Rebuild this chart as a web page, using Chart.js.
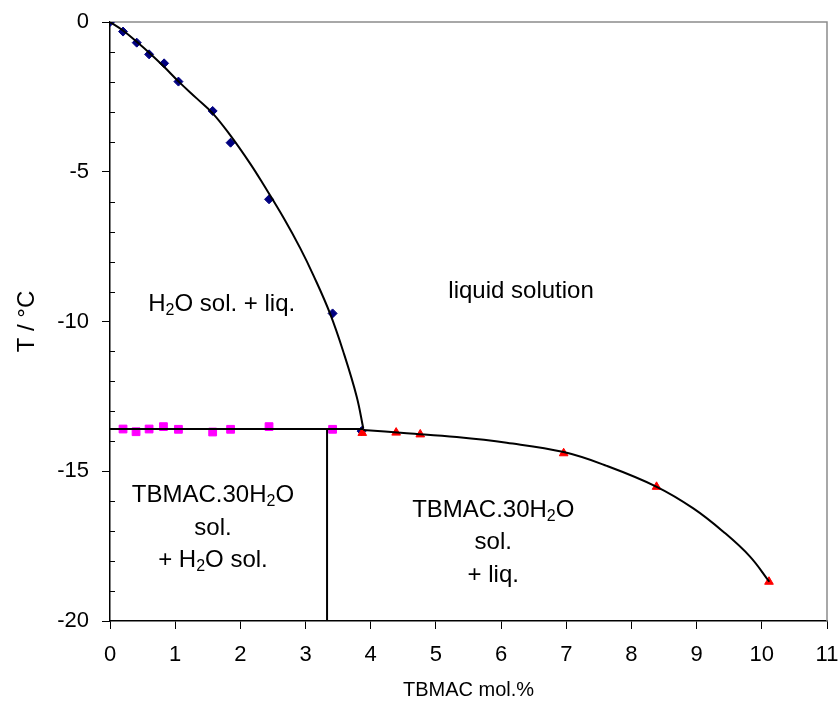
<!DOCTYPE html>
<html><head><meta charset="utf-8">
<script src="https://cdn.jsdelivr.net/npm/chart.js@4/dist/chart.umd.min.js"></script>
<style>html,body{margin:0;padding:0;background:#fff}canvas{display:block}</style>
</head><body>
<canvas id="c" width="840" height="708"></canvas>
<script>
// ---- data ----
const iceX = [0, 0.20, 0.41, 0.60, 0.83, 1.05, 1.575, 1.85, 2.44, 3.415, 3.86];
const iceT = [0, -0.32, -0.69, -1.08, -1.38, -1.99, -2.97, -4.03, -5.92, -9.73, -13.66];
const eutX = [0.20, 0.40, 0.60, 0.82, 1.05, 1.575, 1.85, 2.44, 3.415];
const eutT = [-13.59, -13.68, -13.59, -13.51, -13.60, -13.69, -13.60, -13.51, -13.60];
const hydX = [3.87, 4.39, 4.76, 6.96, 8.385, 10.11];
const hydT = [-13.72, -13.71, -13.77, -14.40, -15.52, -18.69];
const iceCurveX = [0, 0.204, 0.41, 0.614, 0.818, 1.054, 1.33, 1.576, 1.841, 2.148, 2.352, 2.68, 2.918, 3.119, 3.375, 3.59, 3.785, 3.886];
const iceCurveT = [0, -0.29, -0.66, -1.05, -1.47, -1.99, -2.55, -3.05, -3.77, -4.72, -5.42, -6.60, -7.55, -8.45, -9.73, -11.08, -12.51, -13.57];
const hydCurveX = [3.886, 4.552, 5.319, 6.086, 6.961, 7.620, 8.388, 8.949, 9.410, 9.819, 10.115];
const hydCurveT = [-13.62, -13.73, -13.86, -14.05, -14.36, -14.82, -15.52, -16.24, -17.02, -17.85, -18.69];
const eutLineX = [0, 3.886];
const eutLineT = [-13.59, -13.59];
const vertLineX = [3.33, 3.33];
const vertLineT = [-13.59, -20];
const xTickValues = [0, 1, 2, 3, 4, 5, 6, 7, 8, 9, 10, 11];
const yTickValues = [0, -5, -10, -15, -20];
const yMinorTickValues = [-1,-2,-3,-4,-6,-7,-8,-9,-11,-12,-13,-14,-16,-17,-18,-19];
const xTitle = 'TBMAC mol.%';
const yTitle = 'T / °C';

// region labels: rich-text segments (second item 1 = subscript)
const regionLabels = [
  { x: 1.714, y: -9.64, lines: [[['H'], ['2', 1], ['O sol. + liq.']]] },
  { x: 6.306, y: -9.225, lines: [[['liquid solution']]] },
  { x: 1.58, y: -16.03, lines: [[['TBMAC.30H'], ['2', 1], ['O']], [['sol.']], [['+ H'], ['2', 1], ['O sol.']]] },
  { x: 5.88, y: -16.52, lines: [[['TBMAC.30H'], ['2', 1], ['O']], [['sol.']], [['+ liq.']]] }
];

const pts = (xs, ys) => xs.map((x, i) => ({ x: x, y: ys[i] }));
const FONT = '"Liberation Sans", Arial, sans-serif';

const decor = {
  id: 'decor',
  beforeDatasetsDraw(chart) {
    const { ctx, chartArea: a, scales } = chart;
    ctx.save();
    ctx.strokeStyle = '#8c8c8c';
    ctx.lineWidth = 1.5;
    ctx.beginPath();
    ctx.moveTo(a.left, a.top); ctx.lineTo(a.right, a.top); ctx.lineTo(a.right, a.bottom);
    ctx.stroke();
    ctx.strokeStyle = '#000';
    ctx.lineWidth = 1;
    ctx.beginPath();
    yMinorTickValues.forEach(v => {
      const py = Math.round(scales.y.getPixelForValue(v)) + 0.5;
      ctx.moveTo(a.left, py); ctx.lineTo(a.left + 5, py);
    });
    ctx.stroke();
    ctx.restore();
  },
  afterDraw(chart) {
    const { ctx, scales } = chart;
    ctx.save();
    ctx.fillStyle = '#000';
    ctx.textBaseline = 'alphabetic';
    const main = '24px ' + FONT, sub = '16px ' + FONT;
    regionLabels.forEach(lab => {
      const cx = scales.x.getPixelForValue(lab.x);
      let by = scales.y.getPixelForValue(lab.y);
      lab.lines.forEach(line => {
        let w = 0;
        line.forEach(seg => { ctx.font = seg[1] ? sub : main; w += ctx.measureText(seg[0]).width; });
        let px = cx - w / 2;
        line.forEach(seg => {
          ctx.font = seg[1] ? sub : main;
          ctx.fillText(seg[0], px, by + (seg[1] ? 4 : 0));
          px += ctx.measureText(seg[0]).width;
        });
        by += 32.5;
      });
    });
    ctx.restore();
  }
};

const lineDs = (data, tension) => ({
  type: 'line', data: data, borderColor: '#000', borderWidth: 2, pointRadius: 0,
  fill: false, tension: tension, order: 0
});

new Chart(document.getElementById('c'), {
  type: 'scatter',
  data: {
    datasets: [
      lineDs(pts(iceCurveX, iceCurveT), 0.4),
      lineDs(pts(hydCurveX, hydCurveT), 0.4),
      lineDs(pts(eutLineX, eutLineT), 0),
      lineDs(pts(vertLineX, vertLineT), 0),
      { data: pts(iceX, iceT), pointStyle: 'rectRot', pointRadius: 4.5, backgroundColor: '#000080', borderColor: '#000080', borderWidth: 1, order: 3 },
      { data: pts(eutX, eutT), pointStyle: 'rect', pointRadius: 5.5, backgroundColor: '#ff00ff', borderColor: '#ff00ff', borderWidth: 1, order: 2 },
      { data: pts(hydX, hydT), pointStyle: 'triangle', pointRadius: 5, backgroundColor: '#ff0000', borderColor: '#ff0000', borderWidth: 1, order: 1 }
    ]
  },
  options: {
    responsive: false, animation: false, devicePixelRatio: 1,
    layout: { padding: { left: 0, right: 13, top: 22, bottom: 0 } },
    plugins: { legend: { display: false }, tooltip: { enabled: false } },
    scales: {
      x: {
        type: 'linear', min: 0, max: 11,
        afterBuildTicks: s => { s.ticks = xTickValues.map(v => ({ value: v })); },
        afterFit: s => { s.height = 87; s.paddingLeft = 0; s.paddingRight = 0; },
        grid: { drawOnChartArea: false, tickLength: 8, color: '#000', lineWidth: 1 },
        border: { color: '#000', width: 1.5 },
        ticks: { color: '#000', padding: 13, font: { family: FONT, size: 22 }, maxRotation: 0 },
        title: { display: true, text: xTitle, color: '#000', font: { family: FONT, size: 20 }, padding: { top: 4, bottom: 6 } }
      },
      y: {
        type: 'linear', min: -20, max: 0,
        afterBuildTicks: s => { s.ticks = yTickValues.map(v => ({ value: v })); },
        afterFit: s => { s.width = 110; s.paddingTop = 0; s.paddingBottom = 0; },
        grid: { drawOnChartArea: false, tickLength: 8, color: '#000', lineWidth: 1 },
        border: { color: '#000', width: 1.5 },
        ticks: { color: '#000', padding: 13, font: { family: FONT, size: 22 } },
        title: { display: true, text: yTitle, color: '#000', font: { family: FONT, size: 24 }, padding: { top: 13, bottom: 0 } }
      }
    }
  },
  plugins: [decor]
});
</script>
</body></html>
